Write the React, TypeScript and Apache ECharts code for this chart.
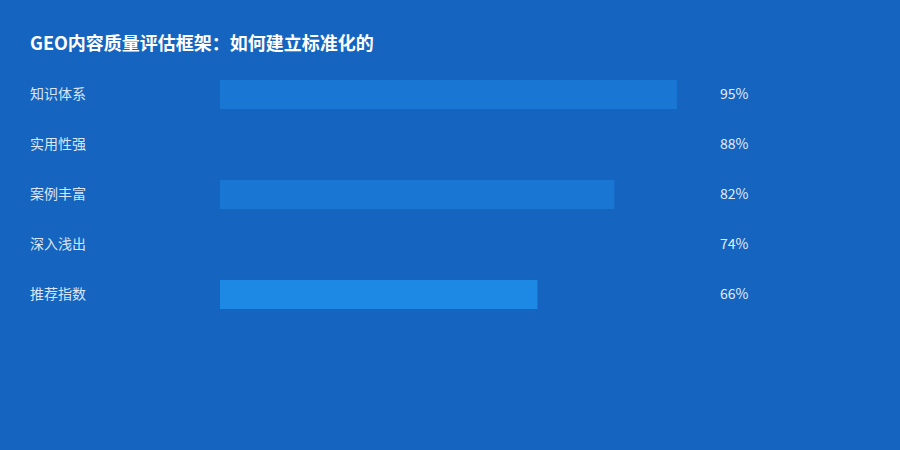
import * as echarts from 'echarts';
import { useEffect, useRef } from 'react';

const categories = ['知识体系', '实用性强', '案例丰富', '深入浅出', '推荐指数'];
const values = [95, 88, 82, 74, 66];
const barColors = ['#1976D2', '#1565C0', '#1976D2', '#1565C0', '#1E88E5'];
const titleText = 'GEO内容质量评估框架：如何建立标准化的';

const FONT = '"Noto Sans CJK SC", "Noto Sans", sans-serif';

const App = () => {
  const chartRef = useRef<HTMLDivElement>(null);

  useEffect(() => {
    document.body.style.margin = '0';
    if (!chartRef.current) return;
    const chart = echarts.init(chartRef.current, undefined, { renderer: 'svg' });

    const option: echarts.EChartsOption = {
      animation: false,
      backgroundColor: '#1565C0',
      title: {
        text: titleText,
        left: 25,
        top: 28,
        textStyle: {
          color: '#ffffff',
          fontSize: 18,
          fontWeight: 'bold',
          fontFamily: FONT,
        },
      },
      grid: {
        left: 220,
        right: 199,
        top: 69.5,
        bottom: 130.5,
        containLabel: false,
      },
      xAxis: {
        type: 'value',
        min: 0,
        max: 100,
        show: false,
      },
      yAxis: [
        {
          type: 'category',
          data: categories,
          inverse: true,
          axisLine: { show: false },
          axisTick: { show: false },
          splitLine: { show: false },
          axisLabel: {
            align: 'left',
            margin: 190,
            formatter: (v: string) => '{a|' + v + '}',
            rich: {
              a: {
                color: 'rgba(255,255,255,0.85)',
                fontSize: 14,
                fontFamily: FONT,
                padding: [0, 0, 4, 0],
              },
            },
          },
        },
        {
          type: 'category',
          position: 'right',
          data: values.map(v => v + '%'),
          inverse: true,
          axisLine: { show: false },
          axisTick: { show: false },
          splitLine: { show: false },
          axisLabel: {
            align: 'left',
            margin: 19,
            formatter: (v: string) => '{a|' + v + '}',
            rich: {
              a: {
                color: 'rgba(255,255,255,0.9)',
                fontSize: 14,
                fontFamily: FONT,
                padding: [0, 0, 4, 0],
              },
            },
          },
        },
      ],
      series: [
        {
          type: 'bar',
          yAxisIndex: 0,
          barWidth: 29,
          data: values.map((v, i) => ({
            value: v,
            itemStyle: { color: barColors[i] },
          })),
        },
      ],
    };

    chart.setOption(option);
    return () => {
      chart.dispose();
    };
  }, []);

  return (
    <div
      ref={chartRef}
      style={{ position: 'fixed', left: 0, top: 0, width: 900, height: 450 }}
    />
  );
};

export default App;
